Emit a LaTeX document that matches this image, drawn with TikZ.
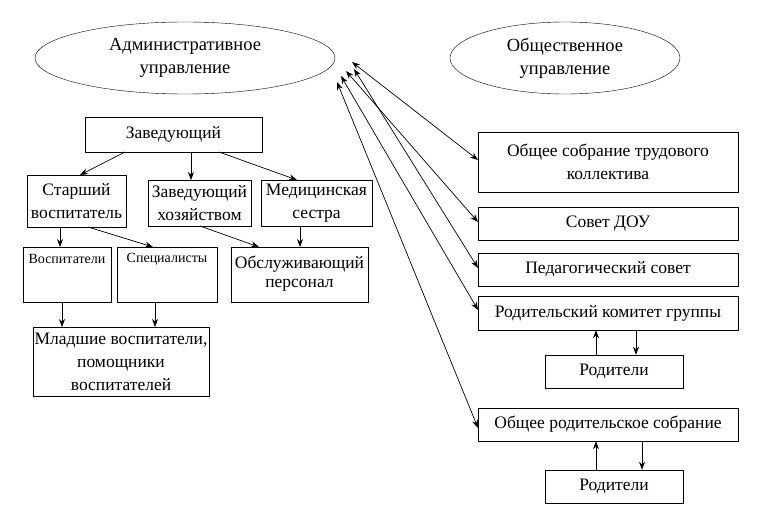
\documentclass[tikz,border=0pt]{standalone}
\usepackage{fontspec}
\setmainfont{Liberation Serif}
\usetikzlibrary{arrows.meta,shapes.geometric}
\begin{document}
\begin{tikzpicture}[x=1pt,y=-1pt,
 box/.style={draw,rectangle,inner sep=0pt,align=center,font=\fontsize{17.5}{23}\selectfont},
 txt/.style={inner sep=0pt,align=center},
 sm/.style={font=\fontsize{14}{17}\selectfont},
 ell/.style={draw,ellipse,align=center,font=\fontsize{18.5}{23}\selectfont},
 arr/.style={-{Stealth[length=8pt,width=6pt]},line width=0.7pt},
 darr/.style={{Stealth[length=8pt,width=6pt]}-{Stealth[length=8pt,width=6pt]},line width=0.7pt}]
\useasboundingbox (0,0) rectangle (777,524);
\node[ell,minimum width=300,minimum height=72] (adm) at (185,58) {Административное\\управление};
\node[ell,minimum width=230,minimum height=72] (obs) at (565,58) {Общественное\\управление};
\node[box,minimum width=177,minimum height=35] (zav) at (173.5,134.5) {Заведующий};
\node[box,minimum width=99,minimum height=52] (st) at (76.5,201) {Старший\\воспитатель};
\node[box,minimum width=103,minimum height=46] (hoz) at (199.5,203) {Заведующий\\хозяйством};
\node[box,minimum width=111,minimum height=46] (med) at (316.5,203) {Медицинская\\сестра};
\node[box,minimum width=88,minimum height=55] (vos) at (67,274.5) {};
\node[txt,sm] (vost) at (67,259) {Воспитатели};
\node[box,minimum width=100,minimum height=55] (spec) at (167,274.5) {};
\node[txt,sm] (spect) at (167,259) {Специалисты};
\node[box,minimum width=137,minimum height=55] (obsl) at (299.5,274.5) {\raisebox{5pt}{\shortstack{Обслуживающий\\[4pt]персонал}}};
\node[box,minimum width=176,minimum height=69] (ml) at (121,361.5) {Младшие воспитатели,\\помощники\\воспитателей};
\coordinate (z1) at (125,152); \coordinate (z1e) at (80,175); \draw[arr] (z1) -- (z1e);
\coordinate (z2) at (191,152); \coordinate (z2e) at (191,180); \draw[arr] (z2) -- (z2e);
\coordinate (z3) at (219,152); \coordinate (z3e) at (297,180); \draw[arr] (z3) -- (z3e);
\coordinate (s1) at (60,227); \coordinate (s1e) at (60,247); \draw[arr] (s1) -- (s1e);
\coordinate (s2) at (88,227); \coordinate (s2e) at (153,247); \draw[arr] (s2) -- (s2e);
\coordinate (h1) at (200,226); \coordinate (h1e) at (259,247); \draw[arr] (h1) -- (h1e);
\coordinate (m1) at (300,226); \coordinate (m1e) at (300,247); \draw[arr] (m1) -- (m1e);
\coordinate (v1) at (62,302); \coordinate (v1e) at (62,327); \draw[arr] (v1) -- (v1e);
\coordinate (p1) at (155,302); \coordinate (p1e) at (155,327); \draw[arr] (p1) -- (p1e);
% right
\node[box,minimum width=260,minimum height=60] (os) at (608,162) {Общее собрание трудового\\коллектива};
\node[box,minimum width=260,minimum height=33] (sov) at (608,223.5) {Совет ДОУ};
\node[box,minimum width=260,minimum height=33] (ped) at (608,269.5) {Педагогический совет};
\node[box,minimum width=260,minimum height=34] (rk) at (608,313) {Родительский комитет группы};
\node[box,minimum width=138,minimum height=33] (r1) at (614,371.5) {Родители};
\node[box,minimum width=260,minimum height=33] (or) at (608,424.5) {Общее родительское собрание};
\node[box,minimum width=138,minimum height=33] (r2) at (614,486.5) {Родители};
\coordinate (a1) at (352,62); \coordinate (b1) at (478,160); \draw[darr] (a1) -- (b1);
\coordinate (a2) at (346,71); \coordinate (b2) at (478,222); \draw[darr] (a2) -- (b2);
\coordinate (a3) at (354,69); \coordinate (b3) at (478,268); \draw[darr] (a3) -- (b3);
\coordinate (a4) at (341,76); \coordinate (b4) at (478,310); \draw[darr] (a4) -- (b4);
\coordinate (a5) at (337,82); \coordinate (b5) at (478,428); \draw[darr] (a5) -- (b5);
\draw[arr] (r1.north -| 596,0) -- (rk.south -| 596,0);
\draw[arr] (rk.south -| 636,0) -- (r1.north -| 636,0);
\draw[arr] (r2.north -| 596,0) -- (or.south -| 596,0);
\draw[arr] (or.south -| 642,0) -- (r2.north -| 642,0);
\end{tikzpicture}
\end{document}
